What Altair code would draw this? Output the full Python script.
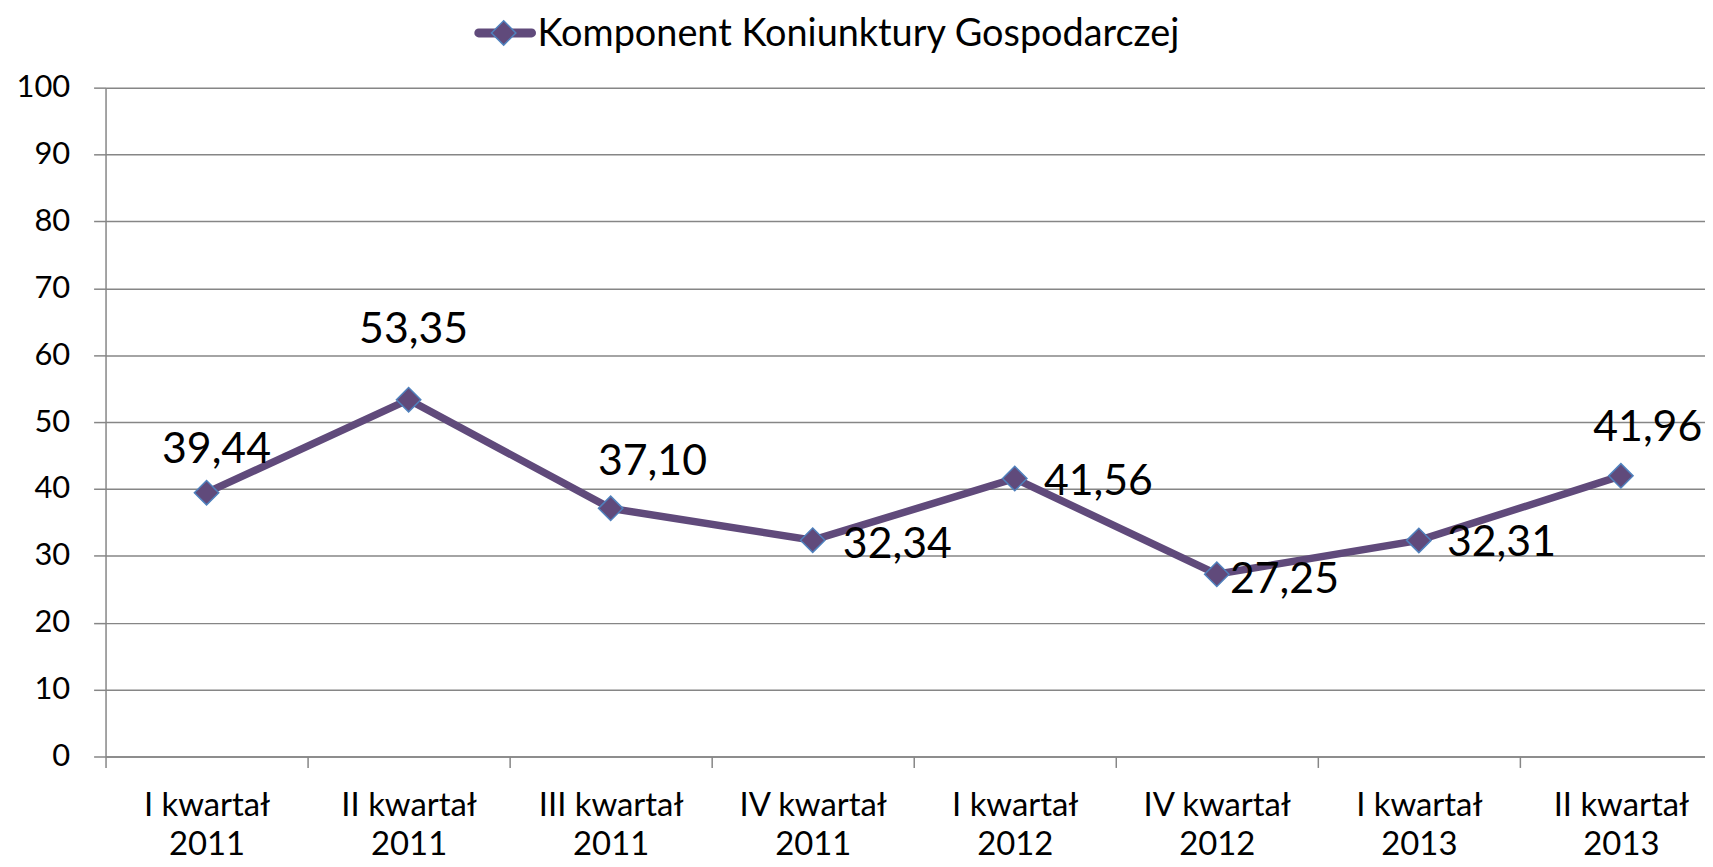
import altair as alt
import pandas as pd

categories = ["I kwartał 2011", "II kwartał 2011", "III kwartał 2011", "IV kwartał 2011",
              "I kwartał 2012", "IV kwartał 2012", "I kwartał 2013", "II kwartał 2013"]
values = [39.44, 53.35, 37.10, 32.34, 41.56, 27.25, 32.31, 41.96]
series_name = "Komponent Koniunktury Gospodarczej"
y_ticks = [0, 10, 20, 30, 40, 50, 60, 70, 80, 90, 100]

# label placement (pixel offsets from the data point), style only
label_offsets = {
    "I kwartał 2011": (10, -30),
    "II kwartał 2011": (5, -57),
    "III kwartał 2011": (42, -34),
    "IV kwartał 2011": (85, 18),
    "I kwartał 2012": (84, 17),
    "IV kwartał 2012": (68, 19),
    "I kwartał 2013": (83, 16),
    "II kwartał 2013": (27, -35),
}

PURPLE = "#604A7B"
BLUE = "#4F81BD"
GRID = "#868686"
FONT = "Lato"

df = pd.DataFrame({"cat": categories, "val": values})

STEP = 203
x_enc = alt.X(
    "cat:N",
    sort=categories,
    scale=alt.Scale(type="point", domain=categories, range=[0, STEP * len(categories)], padding=0.5),
    axis=alt.Axis(
        title=None,
        labelAngle=0,
        labelFont=FONT,
        labelFontSize=33,
        labelColor="black",
        labelLineHeight=39,
        labelBaseline="top",
        labelPadding=22,
        labelExpr="[slice(datum.label, 0, lastindexof(datum.label, ' ')), slice(datum.label, lastindexof(datum.label, ' ') + 1)]",
        tickOffset=-STEP / 2,
        labelOffset=STEP / 2,
        tickSize=11,
        tickColor=GRID,
        tickWidth=1.5,
        domainColor=GRID,
        domainWidth=1.5,
        grid=False,
        labelOverlap=False,
    ),
)
y_enc = alt.Y(
    "val:Q",
    scale=alt.Scale(domain=[0, 100], nice=False),
    axis=alt.Axis(
        title=None,
        values=y_ticks,
        labelFont=FONT,
        labelFontSize=31,
        labelColor="black",
        labelPadding=24,
        tickSize=12,
        tickColor=GRID,
        tickWidth=1.5,
        domainColor=GRID,
        domainWidth=1.5,
        grid=True,
        gridColor=GRID,
        gridWidth=1.5,
    ),
)

base = alt.Chart(df)
line = base.mark_line(color=PURPLE, strokeWidth=7.5).encode(x=x_enc, y=y_enc)
points = base.mark_point(
    shape="diamond", filled=True, fill=PURPLE, stroke=BLUE, strokeWidth=1.5, size=600, opacity=1
).encode(x=x_enc, y=y_enc)

label_layers = []
for cat, (dx, dy) in label_offsets.items():
    label_layers.append(
        base.transform_filter(alt.datum.cat == cat)
        .transform_calculate(lab="replace(format(datum.val, '.2f'), '.', ',')")
        .mark_text(font=FONT, fontSize=43, color="black", align="center", baseline="alphabetic", dx=dx, dy=dy)
        .encode(x=x_enc, y=y_enc, text="lab:N")
    )

leg_df = pd.DataFrame({"name": [series_name]})
leg_base = alt.Chart(leg_df)
leg_line = leg_base.mark_rule(color=PURPLE, strokeWidth=9, strokeCap="round").encode(
    x=alt.value(375), x2=alt.value(428), y=alt.value(-55)
)
leg_point = leg_base.mark_point(
    shape="diamond", filled=True, fill=PURPLE, stroke=BLUE, strokeWidth=1.5, size=600, opacity=1
).encode(x=alt.value(400), y=alt.value(-55))
leg_text = leg_base.mark_text(font=FONT, fontSize=38, color="black", align="left", baseline="alphabetic").encode(
    x=alt.value(434), y=alt.value(-42), text="name:N"
)

chart = (
    alt.layer(line, points, *label_layers, leg_line, leg_point, leg_text)
    .properties(
        width=1607,
        height=672,
        autosize=alt.AutoSizeParams(type="none"),
        padding={"left": 98, "top": 78, "right": 0, "bottom": 109},
        background="white",
    )
    .configure_view(stroke=None)
)

chart.save("out.html", embed_options={"renderer": "svg", "actions": False})
